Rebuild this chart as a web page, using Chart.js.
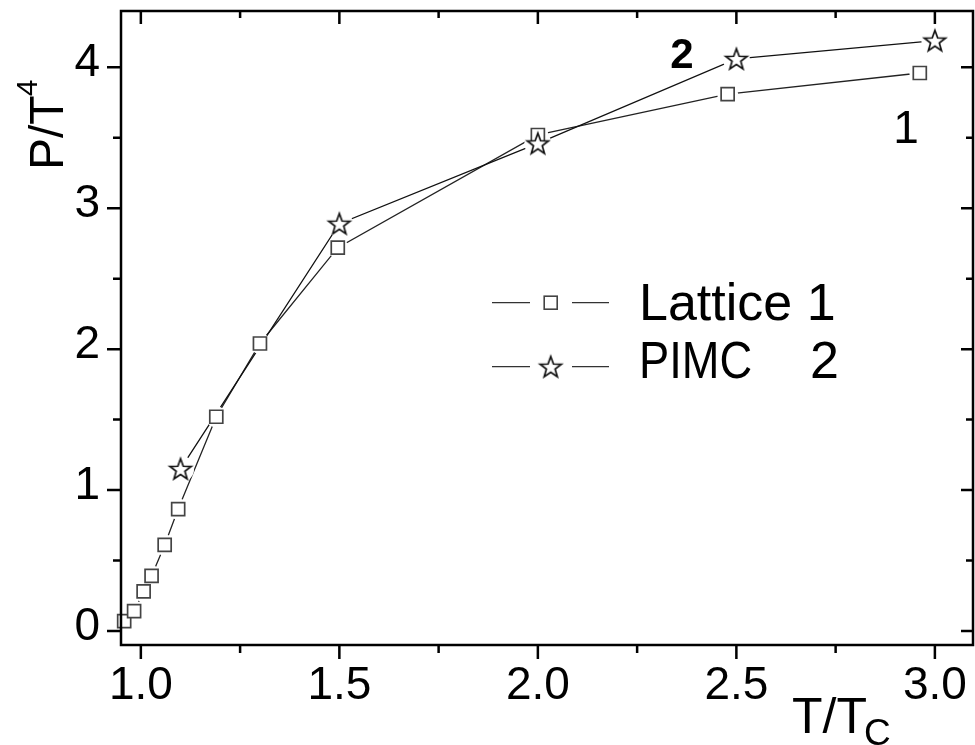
<!DOCTYPE html>
<html>
<head>
<meta charset="utf-8">
<script src="https://cdn.jsdelivr.net/npm/chart.js@4"></script>
<style>
  html, body { margin: 0; padding: 0; background: #fff; overflow: hidden; }
  canvas { display: block; }
</style>
</head>
<body>
<canvas id="chart" width="975" height="745"></canvas>
<script>
// values
const latticeT = [0.958, 0.983, 1.007, 1.027, 1.06, 1.094, 1.19, 1.30, 1.496, 2.0, 2.478, 2.962];
const latticeP = [0.07, 0.14, 0.28, 0.39, 0.61, 0.865, 1.52, 2.04, 2.72, 3.52, 3.81, 3.96];
const pimcT = [1.1, 1.5, 2.0, 2.5, 3.0];
const pimcP = [1.15, 2.89, 3.46, 4.06, 4.19];

const xMajorTicks = [1.0, 1.5, 2.0, 2.5, 3.0];
const xMinorTicks = [1.25, 1.75, 2.25, 2.75];
const yMajorTicks = [0, 1, 2, 3, 4];
const yMinorTicks = [0.5, 1.5, 2.5, 3.5];
const legendNames = ['Lattice', 'PIMC'];
const curveTags = ['1', '2'];

const FONT = "'Liberation Sans', Arial, sans-serif";

function makeStar(size, outer, inner, lw) {
  const c = document.createElement('canvas');
  c.width = size;
  c.height = size;
  const g = c.getContext('2d');
  g.beginPath();
  for (let i = 0; i < 10; i++) {
    const r = i % 2 ? inner : outer;
    const a = -Math.PI / 2 + i * Math.PI / 5;
    const px = size / 2 + r * Math.cos(a);
    const py = size / 2 + 1 + r * Math.sin(a);
    if (i === 0) g.moveTo(px, py); else g.lineTo(px, py);
  }
  g.closePath();
  g.fillStyle = '#fff';
  g.fill();
  g.lineWidth = lw;
  g.strokeStyle = '#111';
  g.stroke();
  return c;
}

const starImg = makeStar(28, 11.2, 4.6, 1.7);

function pts(xs, ys) {
  return xs.map((v, i) => ({ x: v, y: ys[i] }));
}

const framePlugin = {
  id: 'frame',
  afterDraw(chart) {
    const ctx = chart.ctx;
    const a = chart.chartArea;
    const x = chart.scales.x;
    const y = chart.scales.y;
    ctx.save();

    // frame and ticks
    ctx.strokeStyle = '#000';
    ctx.lineWidth = 2.5;
    ctx.strokeRect(a.left, a.top, a.right - a.left, a.bottom - a.top);
    ctx.beginPath();
    xMajorTicks.forEach(v => {
      const px = x.getPixelForValue(v);
      ctx.moveTo(px, a.bottom); ctx.lineTo(px, a.bottom + 14);
      ctx.moveTo(px, a.top); ctx.lineTo(px, a.top + 13);
    });
    xMinorTicks.forEach(v => {
      const px = x.getPixelForValue(v);
      ctx.moveTo(px, a.bottom); ctx.lineTo(px, a.bottom + 8);
      ctx.moveTo(px, a.top); ctx.lineTo(px, a.top + 7);
    });
    yMajorTicks.forEach(v => {
      const py = y.getPixelForValue(v);
      ctx.moveTo(a.left, py); ctx.lineTo(a.left - 14, py);
      ctx.moveTo(a.right, py); ctx.lineTo(a.right - 12, py);
    });
    yMinorTicks.forEach(v => {
      const py = y.getPixelForValue(v);
      ctx.moveTo(a.left, py); ctx.lineTo(a.left - 8, py);
      ctx.moveTo(a.right, py); ctx.lineTo(a.right - 7, py);
    });
    ctx.stroke();

    ctx.fillStyle = '#000';
    ctx.textBaseline = 'alphabetic';
    ctx.textAlign = 'left';

    // y title P/T^4
    ctx.save();
    ctx.translate(63, 170);
    ctx.rotate(-Math.PI / 2);
    ctx.font = '48px ' + FONT;
    ctx.fillText('P/T', 0, 0);
    const w = ctx.measureText('P/T').width;
    ctx.font = '30px ' + FONT;
    ctx.fillText('4', w - 1, -26);
    ctx.restore();

    // x title T/Tc
    ctx.font = '50px ' + FONT;
    ctx.fillText('T/T', 792, 733);
    const w2 = ctx.measureText('T/T').width;
    ctx.font = '37px ' + FONT;
    ctx.fillText('C', 792 + w2 - 3, 745);

    // curve tags
    ctx.textAlign = 'center';
    ctx.font = '46px ' + FONT;
    ctx.fillText(curveTags[0], 906, 143);
    ctx.font = 'bold 42px ' + FONT;
    ctx.fillText(curveTags[1], 682, 68);

    // legend
    ctx.strokeStyle = '#333';
    ctx.lineWidth = 1.2;
    [302.7, 366.7].forEach(ly => {
      ctx.beginPath();
      ctx.moveTo(492, ly); ctx.lineTo(530, ly);
      ctx.moveTo(572, ly); ctx.lineTo(609, ly);
      ctx.stroke();
    });
    ctx.strokeStyle = '#444';
    ctx.lineWidth = 1.6;
    ctx.fillStyle = '#fff';
    ctx.fillRect(544.2, 296.2, 13, 13);
    ctx.strokeRect(544.2, 296.2, 13, 13);
    ctx.drawImage(starImg, 550.7 - 14, 366.7 - 14);

    ctx.fillStyle = '#000';
    ctx.textAlign = 'left';
    ctx.font = '52px ' + FONT;
    ctx.fillText(legendNames[0] + ' ' + curveTags[0], 639, 320);
    ctx.save();
    ctx.translate(639, 378);
    ctx.scale(0.87, 1);
    ctx.fillText(legendNames[1], 0, 0);
    ctx.restore();
    ctx.fillText(curveTags[1], 810, 378);

    ctx.restore();
  }
};

const lattice = pts(latticeT, latticeP);
const pimc = pts(pimcT, pimcP);

new Chart(document.getElementById('chart'), {
  type: 'scatter',
  data: {
    datasets: [
      { data: lattice, showLine: true, borderColor: '#222', borderWidth: 1.3, pointRadius: 0, order: 6 },
      { data: pimc, showLine: true, borderColor: '#111', borderWidth: 1.3, pointRadius: 0, order: 5 },
      { data: lattice, showLine: false, pointStyle: 'circle', pointRadius: 10.5, pointBackgroundColor: '#fff', pointBorderColor: '#fff', pointBorderWidth: 0, order: 4, clip: false },
      { data: pimc, showLine: false, pointStyle: 'circle', pointRadius: 13.5, pointBackgroundColor: '#fff', pointBorderColor: '#fff', pointBorderWidth: 0, order: 3, clip: false },
      { data: lattice, showLine: false, pointStyle: 'rect', pointRadius: 9.2, pointBackgroundColor: '#fff', pointBorderColor: '#444', pointBorderWidth: 1.7, order: 2, clip: false },
      { data: pimc, showLine: false, pointStyle: starImg, pointRadius: 10, order: 1, clip: false }
    ]
  },
  options: {
    responsive: false,
    animation: false,
    events: [],
    devicePixelRatio: 1,
    layout: { autoPadding: false, padding: { top: 11, right: 2, left: 0, bottom: 0 } },
    plugins: { legend: { display: false }, tooltip: { enabled: false } },
    scales: {
      x: {
        type: 'linear',
        min: 0.95,
        max: 3.096,
        afterBuildTicks: s => { s.ticks = xMajorTicks.map(v => ({ value: v })); },
        afterFit: s => { s.height = 100; s.paddingLeft = 0; s.paddingRight = 0; },
        grid: { display: false, drawTicks: false },
        border: { display: false },
        ticks: {
          padding: 14,
          color: '#000',
          maxRotation: 0,
          font: { family: FONT, size: 46 },
          callback: v => v.toFixed(1)
        }
      },
      y: {
        type: 'linear',
        min: -0.1,
        max: 4.4,
        afterBuildTicks: s => { s.ticks = yMajorTicks.map(v => ({ value: v })); },
        afterFit: s => { s.width = 121; s.paddingTop = 0; s.paddingBottom = 0; },
        grid: { display: false, drawTicks: false },
        border: { display: false },
        ticks: {
          padding: 21,
          labelOffset: -4,
          color: '#000',
          font: { family: FONT, size: 46 },
          callback: v => String(v)
        }
      }
    }
  },
  plugins: [framePlugin]
});
</script>
</body>
</html>
